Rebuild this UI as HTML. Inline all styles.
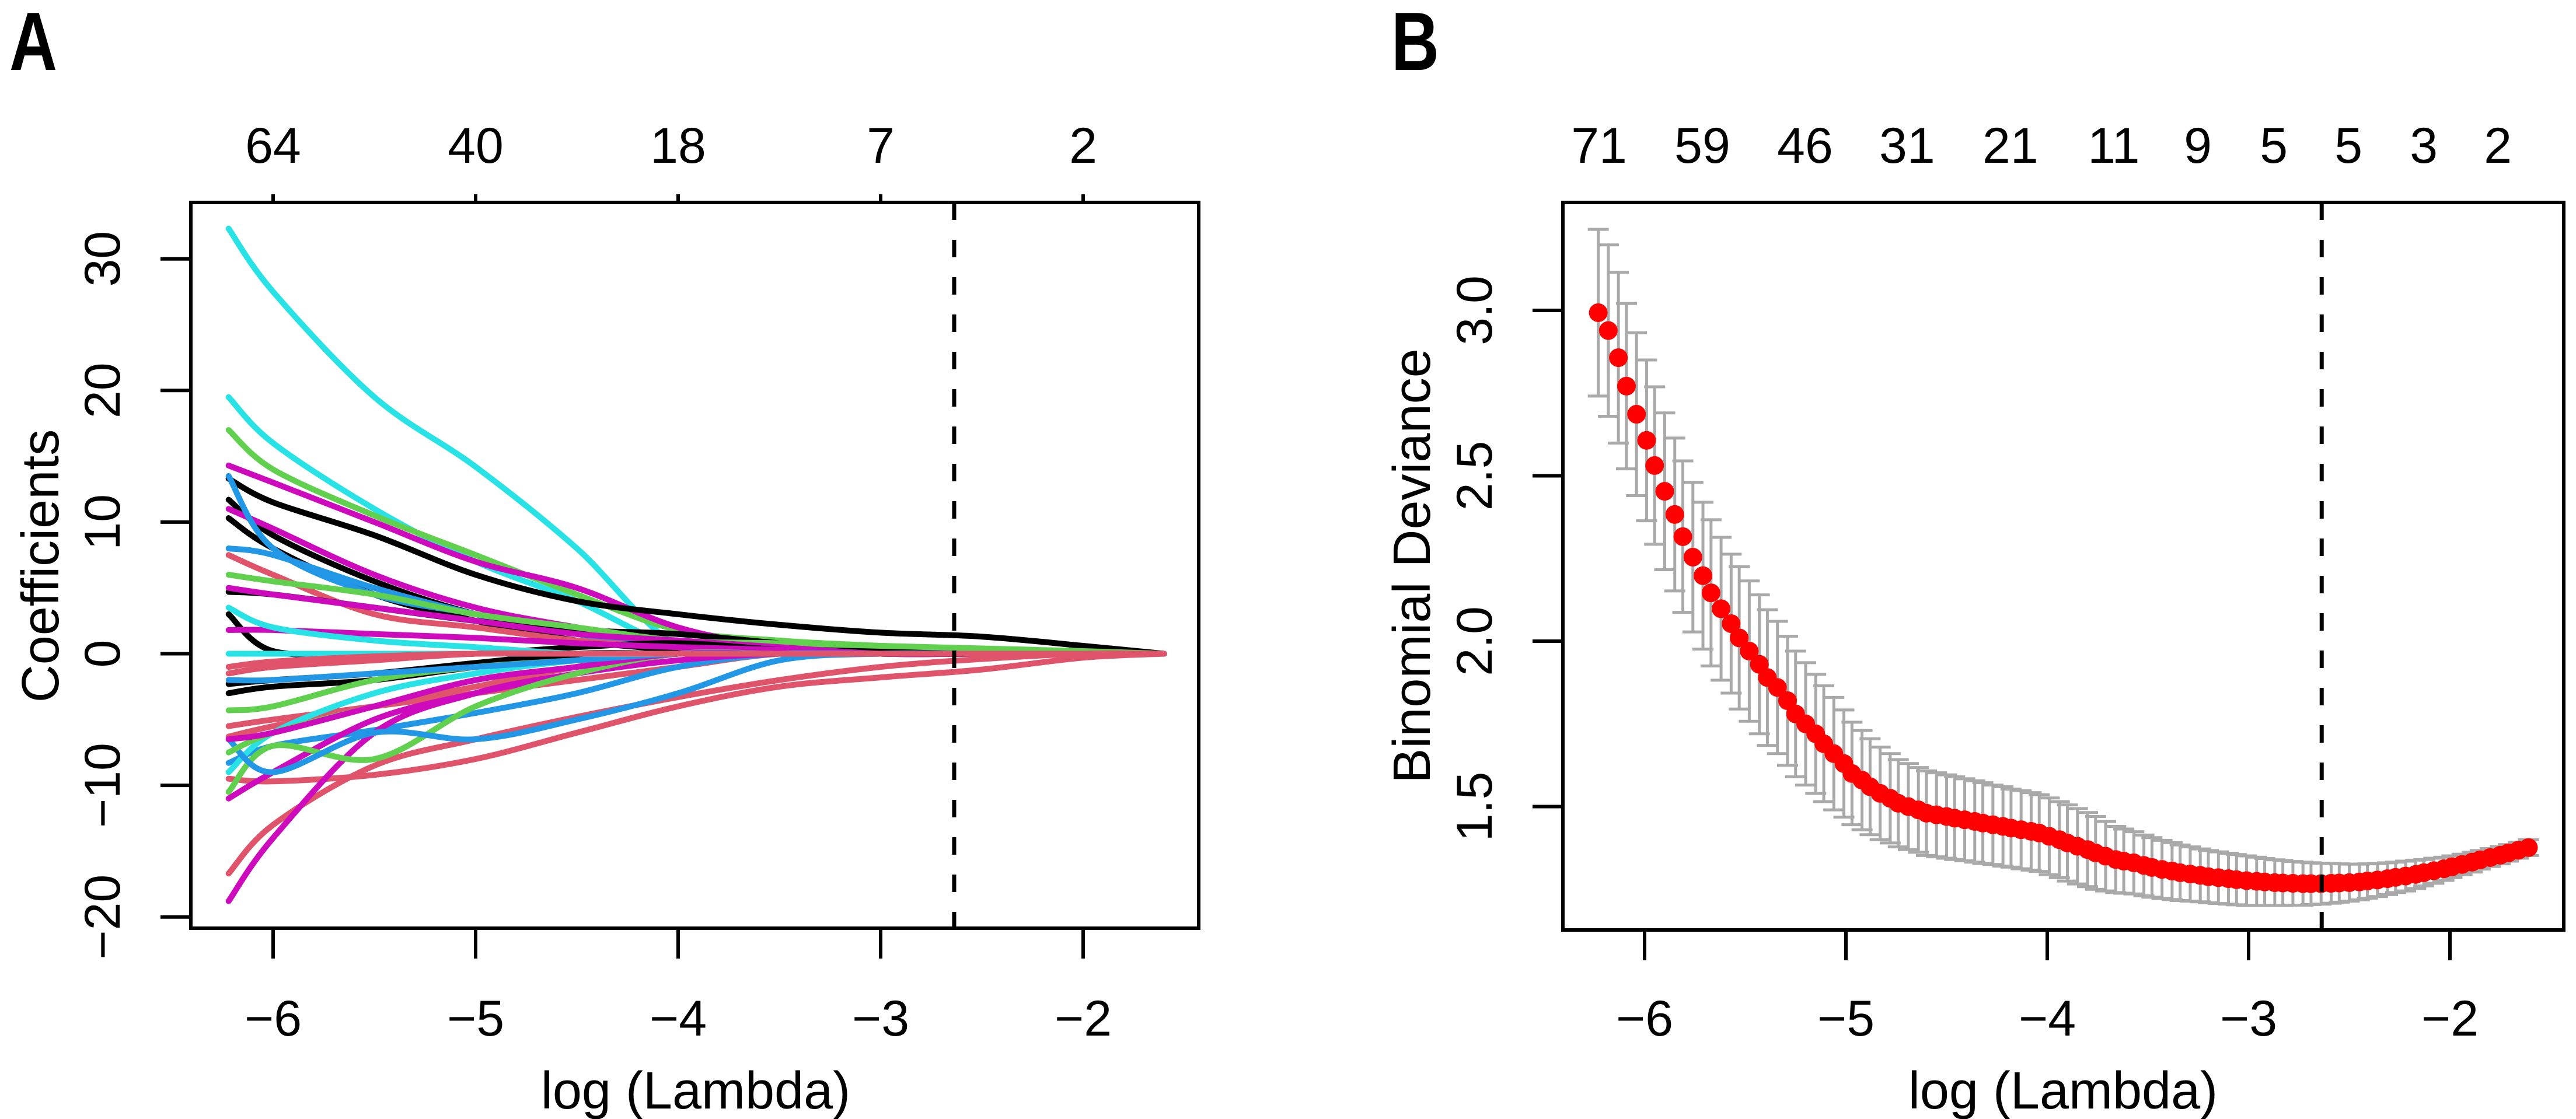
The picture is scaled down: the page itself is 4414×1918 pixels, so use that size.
<!DOCTYPE html>
<html><head><meta charset="utf-8"><title>LASSO coefficient paths and cross-validation</title>
<style>
html,body{margin:0;padding:0;background:#fff;}
svg{display:block;}
text{font-family:"Liberation Sans",Arial,sans-serif;fill:#000;}
.lbl{font-family:"Liberation Sans",sans-serif;font-weight:bold;}
</style></head>
<body>
<svg id="fig" xmlns="http://www.w3.org/2000/svg" width="4414" height="1918" viewBox="0 0 4414 1918">
<rect x="0" y="0" width="4414" height="1918" fill="#fff"/>
<g id="panelA"></g>
<g id="panelB"></g>
</svg>
<script>
// ---------- Panel A data ----------
const keyLogLambda = [-6.22,-6.0,-5.5,-5.0,-4.5,-4.0,-3.5,-3.0,-2.5,-2.0,-1.60];
const pathColors = ["#000000","#DF536B","#61D04F","#2297E6","#28E2E5","#CD0BBC"];
const pathColorIdx = [4,4,2,5,0,0,0,5,3,3,1,0,2,5,0,0,0,4,5,1,2,1,1,3,1,1,5,5,2,4,3,2,5,3,4,1];
const p01 = [32.3,27.5,19.5,14.2,8.0,0.6,0,0,0,0,0];
const p02 = [19.5,16.0,11.0,7.0,4.0,0.5,0,0,0,0,0];
const p03 = [17.0,14.0,10.5,7.5,4.5,1.8,1.0,0.6,0.3,0,0];
const p04 = [14.3,13.0,10.0,7.0,5.0,2.0,0.5,0,0,0,0];
const p05 = [13.3,11.5,9.0,6.0,4.0,3.0,2.2,1.6,1.3,0.6,0];
const p06 = [11.7,9.0,5.5,3.0,1.5,1.0,0.5,0,0,0,0];
const p07 = [10.3,8.0,4.5,2.5,1.0,0.3,0,0,0,0,0];
const p08 = [11.0,9.5,6.0,3.5,2.0,0.8,0,0,0,0,0];
const p09 = [13.5,8.0,4.5,3.0,1.5,0.5,0,0,0,0,0];
const p10 = [8.0,7.5,5.0,3.0,1.5,0.5,0,0,0,0,0];
const p11 = [7.5,6.0,3.0,2.0,1.0,0.5,0,0,0,0,0];
const p12 = [4.7,4.5,3.5,2.5,1.8,1.5,0.8,0.3,0,0,0];
const p13 = [6.0,5.5,4.5,3.0,2.0,1.0,0.8,0.6,0.4,0.2,0];
const p14 = [5.0,4.5,3.5,2.5,1.5,1.0,0.5,0,0,0,0];
const p15 = [3.0,0.2,0,0,0.5,0.8,0.3,0,0,0,0];
const p16 = [-2.3,-2.0,-1.5,-0.7,0,0,0,0,0,0,0];
const p17 = [-3.0,-2.5,-2.0,-1.0,-0.3,0,0,0,0,0,0];
const p18 = [0,0,0,0,0,0,0,0,0,0,0];
const p19 = [1.8,1.8,1.5,1.2,0.8,0.5,0.3,0,0,0,0];
const p20 = [-1.0,-0.6,-0.2,0,0,0,0,0,0,0,0];
const p21 = [-4.3,-4.0,-2.0,-1.0,-0.5,0,0,0,0,0,0];
const p22 = [-5.5,-5.0,-4.0,-3.0,-2.0,-1.0,0,0,0,0,0];
const p23 = [-6.3,-5.5,-4.0,-2.5,-1.0,0,0,0,0,0,0];
const p24 = [-8.3,-7.0,-5.8,-4.5,-3.0,-1.0,0,0,0,0,0];
const p25 = [-9.5,-9.7,-9.2,-8.0,-6.0,-4.0,-2.5,-1.8,-1.2,-0.3,0];
const p26 = [-16.7,-13.0,-8.5,-6.5,-4.8,-3.3,-2.0,-1.0,-0.4,0,0];
const p27 = [-18.8,-14.0,-6.0,-3.0,-1.5,-0.5,0,0,0,0,0];
const p28 = [-11.0,-9.0,-5.0,-3.0,-1.5,0,0,0,0,0,0];
const p29 = [-10.5,-7.0,-8.0,-4.0,-1.5,0,0,0,0,0,0];
const p30 = [-9.0,-6.0,-3.0,-1.5,-0.5,0,0,0,0,0,0];
const p31 = [-6.5,-9.0,-6.0,-6.5,-5.0,-3.0,-0.5,0,0,0,0];
const p32 = [-7.5,-6.0,-4.0,-2.0,-1.0,0,0,0,0,0,0];
const p33 = [-6.5,-6.0,-4.0,-2.0,-1.0,0,0,0,0,0,0];
const p34 = [-2.0,-2.0,-1.5,-1.0,-0.5,0,0,0,0,0,0];
const p35 = [3.5,2.0,1.0,0.5,0,0,0,0,0,0,0];
const p36 = [-1.5,-1.0,-0.5,0,0,0,0,0,0,0,0];
const coefPaths = [p01,p02,p03,p04,p05,p06,p07,p08,p09,p10,p11,p12,p13,p14,p15,p16,p17,p18,p19,p20,p21,p22,p23,p24,p25,p26,p27,p28,p29,p30,p31,p32,p33,p34,p35,p36];
const topTicksA = [-6,-5,-4,-3,-2];
const topLabelsA = ["64","40","18","7","2"];
const xTicksA = [-6,-5,-4,-3,-2];
const yTicksA = [-20,-10,0,10,20,30];
const lambdaMinA = -2.637;

// ---------- Panel B data ----------
const cvLogLambda = [-6.23,-6.18,-6.13,-6.09,-6.04,-5.99,-5.95,-5.90,-5.85,-5.81,-5.76,-5.71,-5.67,-5.62,-5.57,-5.53,-5.48,-5.43,-5.39,-5.34,-5.29,-5.25,-5.20,-5.15,-5.11,-5.06,-5.01,-4.97,-4.92,-4.88,-4.83,-4.78,-4.74,-4.69,-4.64,-4.60,-4.55,-4.50,-4.46,-4.41,-4.36,-4.32,-4.27,-4.22,-4.18,-4.13,-4.08,-4.04,-3.99,-3.94,-3.90,-3.85,-3.80,-3.76,-3.71,-3.66,-3.62,-3.57,-3.52,-3.48,-3.43,-3.38,-3.34,-3.29,-3.24,-3.20,-3.15,-3.10,-3.06,-3.01,-2.96,-2.92,-2.87,-2.83,-2.78,-2.73,-2.69,-2.64,-2.59,-2.55,-2.50,-2.45,-2.41,-2.36,-2.31,-2.27,-2.22,-2.17,-2.13,-2.08,-2.03,-1.99,-1.94,-1.89,-1.85,-1.80,-1.75,-1.71,-1.66,-1.61];
const cvDeviance = [2.993,2.939,2.857,2.771,2.686,2.607,2.531,2.453,2.383,2.316,2.254,2.198,2.146,2.098,2.053,2.01,1.97,1.93,1.89,1.86,1.82,1.78,1.75,1.72,1.69,1.66,1.63,1.60,1.58,1.56,1.54,1.525,1.51,1.50,1.49,1.48,1.475,1.47,1.465,1.46,1.455,1.45,1.445,1.44,1.435,1.43,1.425,1.42,1.41,1.40,1.39,1.38,1.37,1.36,1.35,1.34,1.335,1.33,1.322,1.316,1.31,1.305,1.30,1.296,1.292,1.288,1.285,1.282,1.279,1.276,1.274,1.272,1.27,1.269,1.268,1.267,1.267,1.267,1.268,1.269,1.27,1.272,1.275,1.278,1.282,1.286,1.29,1.295,1.30,1.306,1.312,1.318,1.325,1.332,1.339,1.346,1.353,1.36,1.368,1.376];
const cvSE = [0.252,0.259,0.258,0.25,0.246,0.243,0.238,0.237,0.231,0.229,0.226,0.222,0.221,0.216,0.21,0.215,0.212,0.21,0.205,0.20,0.195,0.19,0.185,0.18,0.175,0.17,0.162,0.155,0.15,0.145,0.14,0.135,0.132,0.13,0.128,0.128,0.127,0.126,0.125,0.124,0.123,0.122,0.12,0.12,0.118,0.118,0.117,0.116,0.116,0.115,0.115,0.114,0.112,0.11,0.105,0.10,0.097,0.094,0.092,0.09,0.088,0.086,0.084,0.082,0.08,0.079,0.078,0.077,0.076,0.075,0.073,0.071,0.069,0.068,0.066,0.065,0.063,0.062,0.06,0.058,0.056,0.054,0.052,0.05,0.048,0.046,0.045,0.043,0.04,0.038,0.035,0.033,0.031,0.03,0.028,0.027,0.026,0.025,0.024,0.024];
const topTicksB = [-6.226,-5.713,-5.203,-4.696,-4.183,-3.670,-3.252,-2.875,-2.504,-2.130,-1.762];
const topLabelsB = ["71","59","46","31","21","11","9","5","5","3","2"];
const xTicksB = [-6,-5,-4,-3,-2];
const yTicksB = [1.5,2.0,2.5,3.0];
const lambdaMinB = -2.637;

const NS = "http://www.w3.org/2000/svg";
function mk(parent, tag, attrs, txt){
  const e = document.createElementNS(NS, tag);
  for (const k in attrs) e.setAttribute(k, attrs[k]);
  if (txt !== undefined) e.textContent = txt;
  parent.appendChild(e);
  return e;
}

// ---------- Panel A ----------
const A = document.getElementById('panelA');
const xA = v => 468 + (v + 6) * 347;
const yA = v => 1120.5 - v * 22.56;
const boxA = {l:327, r:2054, t:347, b:1591};

function smoothPath(xs, ys){
  let d = "M" + xs[0].toFixed(1) + "," + ys[0].toFixed(1);
  for (let i = 0; i < xs.length - 1; i++){
    const x0 = xs[Math.max(i-1,0)], y0 = ys[Math.max(i-1,0)];
    const x1 = xs[i], y1 = ys[i], x2 = xs[i+1], y2 = ys[i+1];
    const x3 = xs[Math.min(i+2,xs.length-1)], y3 = ys[Math.min(i+2,xs.length-1)];
    const c1x = x1 + (x2 - x0) / 6, c1y = y1 + (y2 - y0) / 6;
    const c2x = x2 - (x3 - x1) / 6, c2y = y2 - (y3 - y1) / 6;
    d += " C" + c1x.toFixed(1) + "," + c1y.toFixed(1) + " " + c2x.toFixed(1) + "," + c2y.toFixed(1) + " " + x2.toFixed(1) + "," + y2.toFixed(1);
  }
  return d;
}

const pathsG = mk(A, 'g', {});


coefPaths.forEach((vals, i) => {
  const xs = keyLogLambda.map(xA);
  const ys = vals.map(yA);
  const p = mk(pathsG, 'path', {d: smoothPath(xs, ys), fill:'none', stroke: pathColors[pathColorIdx[i]], 'stroke-width':10, 'stroke-linecap':'round', 'stroke-linejoin':'round'});
  
  
});

const dashA = mk(A, 'line', {x1:xA(lambdaMinA), x2:xA(lambdaMinA), y1:boxA.t, y2:boxA.b, stroke:'#000', 'stroke-width':7, 'stroke-dasharray':'30 34'});



const frameA = mk(A, 'rect', {x:boxA.l, y:boxA.t, width:boxA.r-boxA.l, height:boxA.b-boxA.t, fill:'none', stroke:'#000', 'stroke-width':6});



xTicksA.forEach(v => {
  const t = mk(A, 'line', {x1:xA(v), x2:xA(v), y1:boxA.b, y2:boxA.b+52, stroke:'#000', 'stroke-width':6});
  
  
  const s = mk(A, 'text', {x:xA(v), y:1775, 'font-size':86, 'text-anchor':'middle'}, (v < 0 ? '\u2212' : '') + Math.abs(v));
  
  
});
topTicksA.forEach((v, i) => {
  const t = mk(A, 'line', {x1:xA(v), x2:xA(v), y1:boxA.t, y2:boxA.t-14, stroke:'#000', 'stroke-width':6});
  
  
  const s = mk(A, 'text', {x:xA(v), y:279, 'font-size':86, 'text-anchor':'middle'}, topLabelsA[i]);
  
  
});
yTicksA.forEach(v => {
  const t = mk(A, 'line', {x1:boxA.l, x2:boxA.l-52, y1:yA(v), y2:yA(v), stroke:'#000', 'stroke-width':6});
  
  
  const s = mk(A, 'text', {x:0, y:0, 'font-size':86, 'text-anchor':'middle', transform:'translate(205,' + yA(v) + ') rotate(-90)'}, (v < 0 ? '\u2212' : '') + Math.abs(v));
  
  
});
const xtA = mk(A, 'text', {x:1192, y:1900, 'font-size':90, 'text-anchor':'middle'}, 'log (Lambda)');


const ytA = mk(A, 'text', {x:0, y:0, 'font-size':90, 'text-anchor':'middle', transform:'translate(100,970) rotate(-90)'}, 'Coefficients');


const lA = mk(A, 'text', {x:0, y:0, 'font-size':142, class:'lbl', transform:'translate(16,120) scale(0.8,1)'}, 'A');



// ---------- Panel B ----------
const B = document.getElementById('panelB');
const xB = v => 2818 + (v + 6) * 345;
const yB = v => 532 + (3.0 - v) * 567;
const boxB = {l:2678, r:4393, t:347, b:1594};

const barsG = mk(B, 'g', {});


cvLogLambda.forEach((lv, i) => {
  const x = xB(lv), up = yB(cvDeviance[i] + cvSE[i]), lo = yB(cvDeviance[i] - cvSE[i]);
  const g = mk(barsG, 'path', {d:'M'+x+','+up+' V'+lo+' M'+(x-18)+','+up+' H'+(x+18)+' M'+(x-18)+','+lo+' H'+(x+18), stroke:'#A9A9A9', 'stroke-width':5, fill:'none'});
  
  
});
const ptsG = mk(B, 'g', {});


cvLogLambda.forEach((lv, i) => {
  const c = mk(ptsG, 'circle', {cx:xB(lv), cy:yB(cvDeviance[i]), r:16, fill:'#FF0000'});
  
  
});
const dashB = mk(B, 'line', {x1:xB(lambdaMinB), x2:xB(lambdaMinB), y1:boxB.t, y2:boxB.b, stroke:'#000', 'stroke-width':7, 'stroke-dasharray':'30 34'});


const frameB = mk(B, 'rect', {x:boxB.l, y:boxB.t, width:boxB.r-boxB.l, height:boxB.b-boxB.t, fill:'none', stroke:'#000', 'stroke-width':6});



xTicksB.forEach(v => {
  const t = mk(B, 'line', {x1:xB(v), x2:xB(v), y1:boxB.b, y2:boxB.b+52, stroke:'#000', 'stroke-width':6});
  
  
  const s = mk(B, 'text', {x:xB(v), y:1775, 'font-size':86, 'text-anchor':'middle'}, (v < 0 ? '\u2212' : '') + Math.abs(v));
  
  
});
topTicksB.forEach((v, i) => {
  const s = mk(B, 'text', {x:xB(v), y:279, 'font-size':86, 'text-anchor':'middle'}, topLabelsB[i]);
  
  
});
yTicksB.forEach(v => {
  const t = mk(B, 'line', {x1:boxB.l, x2:boxB.l-52, y1:yB(v), y2:yB(v), stroke:'#000', 'stroke-width':6});
  
  
  const s = mk(B, 'text', {x:0, y:0, 'font-size':86, 'text-anchor':'middle', transform:'translate(2556,' + yB(v) + ') rotate(-90)'}, v.toFixed(1));
  
  
});
const xtB = mk(B, 'text', {x:3535, y:1900, 'font-size':90, 'text-anchor':'middle'}, 'log (Lambda)');


const ytB = mk(B, 'text', {x:0, y:0, 'font-size':90, 'text-anchor':'middle', transform:'translate(2450,970) rotate(-90)'}, 'Binomial Deviance');


const lB = mk(B, 'text', {x:0, y:0, 'font-size':142, class:'lbl', transform:'translate(2384,120) scale(0.8,1)'}, 'B');


</script>
</body></html>
